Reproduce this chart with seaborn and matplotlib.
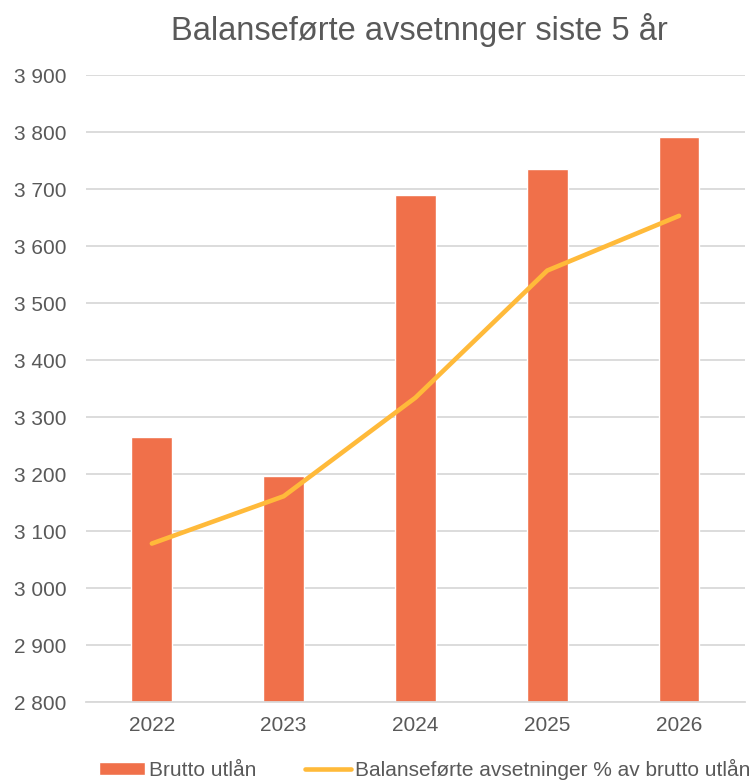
import numpy as np
import pandas as pd
import matplotlib
matplotlib.use("Agg")
import matplotlib.pyplot as plt
import seaborn as sns

# values
years = ["2022", "2023", "2024", "2025", "2026"]
brutto_utlan = [3265, 3196, 3690, 3736, 3791]
avsetninger_pct = [3078, 3161, 3334, 3557, 3653]
y_ticks = [2800, 2900, 3000, 3100, 3200, 3300, 3400, 3500, 3600, 3700, 3800, 3900]

bar_color = "#F0704A"
line_color = "#FFBA3A"
text_color = "#595959"
grid_color = "#D9D9D9"

sns.set_theme(style="white")
plt.rcParams["font.family"] = ["Liberation Sans", "DejaVu Sans"]

df = pd.DataFrame({"year": years, "brutto": brutto_utlan, "pct": avsetninger_pct})

fig = plt.figure(figsize=(7.54, 7.82), dpi=100)
ax = fig.add_axes([0.114, 0.1023, 0.874, 0.8017])

sns.barplot(data=df, x="year", y="brutto", color=bar_color, width=0.31,
            saturation=1, ax=ax, label="Brutto utlån", zorder=2)
sns.lineplot(data=df, x="year", y="pct", color=line_color, linewidth=3.3,
             ax=ax, label="Balanseførte avsetninger % av brutto utlån",
             solid_capstyle="round", zorder=3)

ax.set_ylim(2800, 3900)
ax.set_xlim(-0.5, 4.5)
ax.set_yticks(y_ticks)
ax.set_yticklabels([f"{v:,}".replace(",", " ") for v in y_ticks])
ax.yaxis.grid(True, color=grid_color, linewidth=1.3, zorder=0)
ax.set_axisbelow(True)
for side in ["top", "right", "left"]:
    ax.spines[side].set_visible(False)
ax.spines["bottom"].set_color(grid_color)
ax.spines["bottom"].set_linewidth(1.3)
ax.tick_params(axis="both", length=0, labelsize=15, labelcolor=text_color)
ax.tick_params(axis="y", pad=14)
ax.tick_params(axis="x", pad=10)
ax.set_xlabel("")
ax.set_ylabel("")

fig.text(0.556, 0.961, "Balanseførte avsetnnger siste 5 år", ha="center", va="center",
         fontsize=23.5, color=text_color)

# bar first, then line, as in the reference legend
handles, labels = ax.get_legend_handles_labels()
order = [labels.index("Brutto utlån"), labels.index("Balanseførte avsetninger % av brutto utlån")]
ax.get_legend().remove()
fig.legend([handles[i] for i in order], [labels[i] for i in order],
           loc="center left", bbox_to_anchor=(0.131, 0.016),
           ncol=2, frameon=False, fontsize=15, labelcolor=text_color,
           handlelength=2.2, handleheight=0.6, handletextpad=0.2,
           columnspacing=2.35, borderpad=0, borderaxespad=0)

fig.savefig("out.png", dpi=100)
plt.close(fig)
